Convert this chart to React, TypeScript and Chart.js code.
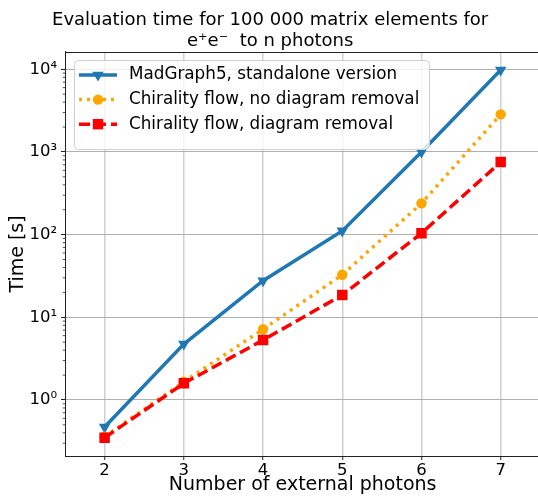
import React, { useEffect, useRef } from 'react';
import { Chart, registerables } from 'chart.js';

Chart.register(...registerables);

// ---- data ----
const photonCounts = [2, 3, 4, 5, 6, 7];
const madgraphTimes = [0.47, 4.75, 27.7, 111, 1000, 9800];
const chiralityNoRemovalTimes = [0.36, 1.66, 7.16, 32.7, 239, 2850];
const chiralityRemovalTimes = [0.35, 1.59, 5.3, 18.6, 104, 755];

const seriesLabels = [
  'MadGraph5, standalone version',
  'Chirality flow, no diagram removal',
  'Chirality flow, diagram removal',
];

const xTickValues = [2, 3, 4, 5, 6, 7];
const yTickValues = [1, 10, 100, 1000, 10000];
const yTickLabels = ['10⁰', '10¹', '10²', '10³', '10⁴'];

const titleLines = ['Evaluation time for 100 000 matrix elements for', 'e⁺e⁻  to n photons'];
const xAxisTitle = 'Number of external photons';
const yAxisTitle = 'Time [s]';

const FONT = "'DejaVu Sans', sans-serif";
const BLUE = '#1f77b4';
const ORANGE = '#ffa500';
const RED = '#ff0000';

const styles = [
  { color: BLUE, dash: [] as number[], marker: 'triangle' },
  { color: ORANGE, dash: [3, 5], marker: 'circle' },
  { color: RED, dash: [11, 5], marker: 'rect' },
];

function drawMarker(ctx: CanvasRenderingContext2D, kind: string, x: number, y: number, color: string) {
  ctx.save();
  ctx.fillStyle = color;
  ctx.beginPath();
  if (kind === 'triangle') {
    const r = 6.6;
    ctx.moveTo(x, y + r);
    ctx.lineTo(x - r * Math.sin(Math.PI / 3), y - r / 2);
    ctx.lineTo(x + r * Math.sin(Math.PI / 3), y - r / 2);
    ctx.closePath();
  } else if (kind === 'circle') {
    ctx.arc(x, y, 5.2, 0, Math.PI * 2);
  } else {
    ctx.rect(x - 5.2, y - 5.2, 10.4, 10.4);
  }
  ctx.fill();
  ctx.restore();
}

const decorPlugin = {
  id: 'decor',
  afterDraw(chart: any) {
    const ctx: CanvasRenderingContext2D = chart.ctx;
    const area = chart.chartArea;
    const yScale = chart.scales.y;
    ctx.save();
    // top spine
    ctx.strokeStyle = '#222';
    ctx.lineWidth = 1;
    ctx.beginPath();
    ctx.moveTo(area.left, Math.round(area.top) + 0.5);
    ctx.lineTo(area.right + 60, Math.round(area.top) + 0.5);
    ctx.stroke();
    // minor ticks on log axis
    ctx.lineWidth = 0.8;
    for (let n = -1; n <= 4; n++) {
      for (let k = 2; k <= 9; k++) {
        const v = k * Math.pow(10, n);
        if (v < yScale.min || v > yScale.max) continue;
        const py = yScale.getPixelForValue(v);
        ctx.beginPath();
        ctx.moveTo(area.left - 2.2, py);
        ctx.lineTo(area.left, py);
        ctx.stroke();
      }
    }
    // legend
    const bx = 74.5, by = 60.5, bw = 355, bh = 89, rr = 4;
    ctx.beginPath();
    ctx.moveTo(bx + rr, by);
    ctx.lineTo(bx + bw - rr, by);
    ctx.arcTo(bx + bw, by, bx + bw, by + rr, rr);
    ctx.lineTo(bx + bw, by + bh - rr);
    ctx.arcTo(bx + bw, by + bh, bx + bw - rr, by + bh, rr);
    ctx.lineTo(bx + rr, by + bh);
    ctx.arcTo(bx, by + bh, bx, by + bh - rr, rr);
    ctx.lineTo(bx, by + rr);
    ctx.arcTo(bx, by, bx + rr, by, rr);
    ctx.closePath();
    ctx.fillStyle = 'rgba(255,255,255,0.8)';
    ctx.fill();
    ctx.strokeStyle = '#d0d0d0';
    ctx.lineWidth = 1;
    ctx.stroke();

    chart.data.datasets.forEach((ds: any, i: number) => {
      const st = styles[i];
      const y = 75 + i * 24.6;
      ctx.save();
      ctx.strokeStyle = st.color;
      ctx.lineWidth = 3.5;
      ctx.setLineDash(st.dash);
      ctx.beginPath();
      ctx.moveTo(79, y);
      ctx.lineTo(117, y);
      ctx.stroke();
      ctx.restore();
      drawMarker(ctx, st.marker, 98, y, st.color);
      ctx.fillStyle = '#000';
      ctx.font = `16.8px ${FONT}`;
      ctx.textBaseline = 'middle';
      ctx.textAlign = 'left';
      ctx.fillText(ds.label, 129, y);
    });
    ctx.restore();
  },
};

export default function App() {
  const canvasRef = useRef<HTMLCanvasElement | null>(null);

  useEffect(() => {
    if (!canvasRef.current) return;
    const makeDs = (i: number, values: number[], order: number) => {
      const st = styles[i];
      return {
        label: seriesLabels[i],
        data: photonCounts.map((x, j) => ({ x, y: values[j] })),
        borderColor: st.color,
        backgroundColor: st.color,
        borderWidth: 3.5,
        borderDash: st.dash,
        borderCapStyle: 'butt' as const,
        pointStyle: st.marker,
        pointRotation: st.marker === 'triangle' ? 180 : 0,
        pointRadius: st.marker === 'triangle' ? 6.6 : st.marker === 'circle' ? 5.2 : 7.4,
        pointBorderWidth: 0,
        pointBackgroundColor: st.color,
        tension: 0,
        order,
      };
    };
    const chart = new Chart(canvasRef.current, {
      type: 'line',
      data: {
        datasets: [
          makeDs(0, madgraphTimes, 3),
          makeDs(1, chiralityNoRemovalTimes, 2),
          makeDs(2, chiralityRemovalTimes, 1),
        ],
      },
      plugins: [decorPlugin],
      options: {
        animation: false,
        responsive: false,
        devicePixelRatio: 1,
        layout: { padding: { left: 0, right: 47.7, top: 0, bottom: 0 } },
        plugins: {
          legend: { display: false },
          tooltip: { enabled: false },
          title: {
            display: true,
            text: titleLines,
            color: '#000',
            font: { family: FONT, size: 18, weight: 'normal', lineHeight: 1.16 },
            padding: { top: 10, bottom: 0.2 },
          },
        },
        scales: {
          x: {
            type: 'linear',
            min: 1.5,
            max: 7.5,
            afterBuildTicks: (scale: any) => {
              scale.ticks = xTickValues.map((v) => ({ value: v }));
            },
            afterFit: (scale: any) => {
              scale.height = 40;
            },
            ticks: {
              color: '#000',
              font: { family: FONT, size: 16.5 },
              padding: 1,
              callback: (v: any) => String(v),
            },
            grid: {
              color: 'rgba(176,176,176,0.6)',
              lineWidth: 1.5,
              tickLength: 4,
              tickColor: '#222',
              tickWidth: 1,
            },
            border: { display: true, color: '#222', width: 1 },
            title: {
              display: true,
              text: xAxisTitle,
              color: '#000',
              font: { family: FONT, size: 19, lineHeight: 1.1 },
              padding: { top: 0, bottom: 0 },
            },
          },
          y: {
            type: 'logarithmic',
            min: 0.21,
            max: 16200,
            afterBuildTicks: (scale: any) => {
              scale.ticks = yTickValues.map((v) => ({ value: v, major: true }));
            },
            afterFit: (scale: any) => {
              scale.width = 65;
            },
            ticks: {
              color: '#000',
              font: { family: FONT, size: 16.5 },
              padding: 4,
              autoSkip: false,
              callback: (v: any) => {
                const idx = yTickValues.indexOf(Number(v));
                return idx >= 0 ? yTickLabels[idx] : '';
              },
            },
            grid: {
              color: '#b0b0b0',
              lineWidth: 1,
              tickLength: 4,
              tickColor: '#222',
              tickWidth: 1,
            },
            border: { display: true, color: '#222', width: 1 },
            title: {
              display: true,
              text: yAxisTitle,
              color: '#000',
              font: { family: FONT, size: 19, lineHeight: 1.2 },
              padding: { top: 7, bottom: 0 },
            },
          },
        },
      },
    } as any);
    return () => chart.destroy();
  }, []);

  return (
    <div style={{ position: 'absolute', left: 0, top: 0, width: 538, height: 496, overflow: 'hidden', background: '#fff' }}>
      <canvas ref={canvasRef} width={588} height={496} style={{ display: 'block', width: 588, height: 496 }} />
    </div>
  );
}
